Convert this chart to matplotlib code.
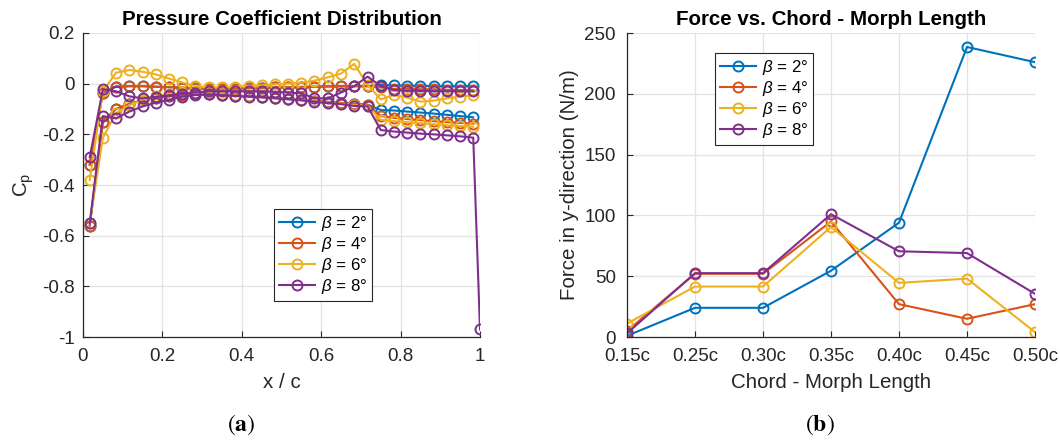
import matplotlib
matplotlib.use("Agg")
import matplotlib.pyplot as plt
from matplotlib.ticker import FixedLocator, FixedFormatter

plt.rcParams['font.family'] = ['Liberation Sans', 'DejaVu Sans']
plt.rcParams['axes.unicode_minus'] = False
plt.rcParams['mathtext.fontset'] = 'custom'
plt.rcParams['mathtext.rm'] = 'Liberation Sans'
plt.rcParams['mathtext.it'] = 'Liberation Sans:italic'

# ---------------- data: pressure coefficient along the chord ----------------
x_c = [0.017, 0.050, 0.083, 0.117, 0.150, 0.183, 0.217, 0.250, 0.283, 0.317,
       0.350, 0.383, 0.417, 0.450, 0.483, 0.517, 0.550, 0.583, 0.617, 0.650,
       0.683, 0.717, 0.750, 0.783, 0.817, 0.850, 0.883, 0.917, 0.950, 0.983]
x_c_te = x_c + [1.0]

cp_b2_upper = [-0.32, -0.035, -0.012, -0.010, -0.010, -0.012, -0.014, -0.016, -0.018, -0.020,
               -0.020, -0.020, -0.018, -0.016, -0.015, -0.014, -0.013, -0.012, -0.011, -0.010,
               -0.010, -0.010, -0.005, -0.007, -0.008, -0.009, -0.010, -0.010, -0.010, -0.010]
cp_b2_lower = [-0.56, -0.150, -0.100, -0.080, -0.065, -0.055, -0.050, -0.045, -0.042, -0.042,
               -0.045, -0.048, -0.050, -0.053, -0.056, -0.060, -0.064, -0.068, -0.072, -0.076,
               -0.080, -0.083, -0.104, -0.106, -0.110, -0.114, -0.118, -0.123, -0.128, -0.133]

cp_b4_upper = [-0.32, -0.035, -0.012, -0.010, -0.010, -0.012, -0.014, -0.016, -0.018, -0.020,
               -0.020, -0.020, -0.018, -0.016, -0.015, -0.014, -0.013, -0.012, -0.011, -0.010,
               -0.010, -0.010, -0.015, -0.020, -0.020, -0.022, -0.022, -0.024, -0.025, -0.025]
cp_b4_lower = [-0.56, -0.150, -0.100, -0.080, -0.065, -0.055, -0.050, -0.045, -0.042, -0.042,
               -0.045, -0.048, -0.050, -0.053, -0.056, -0.060, -0.064, -0.068, -0.072, -0.076,
               -0.080, -0.083, -0.128, -0.135, -0.140, -0.144, -0.148, -0.152, -0.155, -0.158]

cp_b6_upper = [-0.38, -0.030, 0.043, 0.054, 0.047, 0.037, 0.020, 0.005, -0.010, -0.015,
               -0.015, -0.012, -0.010, -0.006, -0.003, 0.000, 0.004, 0.012, 0.025, 0.040,
               0.078, -0.005, -0.062, -0.045, -0.055, -0.071, -0.067, -0.058, -0.051, -0.045]
cp_b6_lower = [-0.55, -0.214, -0.116, -0.085, -0.065, -0.050, -0.042, -0.038, -0.036, -0.038,
               -0.042, -0.046, -0.050, -0.053, -0.056, -0.060, -0.065, -0.070, -0.075, -0.079,
               -0.084, -0.088, -0.143, -0.148, -0.152, -0.156, -0.160, -0.164, -0.167, -0.170]

cp_b8_upper = [-0.29, -0.022, -0.030, -0.050, -0.058, -0.052, -0.046, -0.040, -0.035, -0.030,
               -0.030, -0.030, -0.030, -0.030, -0.032, -0.035, -0.038, -0.058, -0.058, -0.035,
               -0.010, 0.028, -0.010, -0.025, -0.028, -0.028, -0.030, -0.030, -0.030, -0.030]
cp_b8_lower = [-0.55, -0.128, -0.137, -0.110, -0.090, -0.075, -0.064, -0.051, -0.045, -0.042,
               -0.045, -0.048, -0.051, -0.054, -0.058, -0.062, -0.066, -0.071, -0.077, -0.081,
               -0.088, -0.090, -0.183, -0.189, -0.193, -0.197, -0.200, -0.204, -0.208, -0.213,
               -0.97]

# ---------------- data: force against morph length ----------------
morph_labels = ['0.15c', '0.25c', '0.30c', '0.35c', '0.40c', '0.45c', '0.50c']
force_b2 = [1, 24, 24, 54.5, 94, 238.5, 226]
force_b4 = [5, 52, 52, 95, 27, 15, 27]
force_b6 = [11, 41.5, 41.5, 90.5, 44.5, 48, 4]
force_b8 = [3, 52.5, 52.5, 101, 70.5, 69, 35.5]

beta_labels = [r'$\beta$ = 2°', r'$\beta$ = 4°', r'$\beta$ = 6°', r'$\beta$ = 8°']
colors = ['#0072BD', '#D95319', '#EDB120', '#7E2F8E']

TICK_FS = 13.5
LABEL_FS = 14.8
TITLE_FS = 14.8
LEG_FS = 12.2
TXT = '#262626'

line_kw = dict(marker='o', markerfacecolor='none', markersize=7.2,
               markeredgewidth=1.4, linewidth=1.5)


def style_axes(ax):
    for side in ('top', 'right'):
        ax.spines[side].set_visible(False)
    for side in ('left', 'bottom'):
        ax.spines[side].set_color(TXT)
        ax.spines[side].set_linewidth(0.9)
    ax.grid(True, color='#e3e3e3', linewidth=0.9)
    ax.set_axisbelow(True)
    ax.tick_params(direction='in', length=4, width=0.8, colors=TXT,
                   labelsize=TICK_FS)
    ax.tick_params(axis='x', pad=8)
    ax.tick_params(axis='y', pad=6)


def add_legend(ax, loc, anchor):
    leg = ax.legend(loc=loc, bbox_to_anchor=anchor, fontsize=LEG_FS,
                    frameon=True, fancybox=False, framealpha=1, edgecolor=TXT,
                    borderpad=0.3, labelspacing=0.12, handlelength=2.1,
                    handletextpad=0.35, borderaxespad=0)
    leg.get_frame().set_linewidth(0.8)
    return leg


fig = plt.figure(figsize=(10.6, 4.41), dpi=100)

# ---------------- (a) pressure coefficient ----------------
ax1 = fig.add_axes([83 / 1060, 1 - 337 / 441, 397 / 1060, 304 / 441])
style_axes(ax1)
ax1.plot(x_c, cp_b2_upper, color=colors[0], label=beta_labels[0], **line_kw)
ax1.plot(x_c, cp_b2_lower, color=colors[0], **line_kw)
ax1.plot(x_c, cp_b4_upper, color=colors[1], label=beta_labels[1], **line_kw)
ax1.plot(x_c, cp_b4_lower, color=colors[1], **line_kw)
ax1.plot(x_c, cp_b6_upper, color=colors[2], label=beta_labels[2], **line_kw)
ax1.plot(x_c, cp_b6_lower, color=colors[2], **line_kw)
ax1.plot(x_c, cp_b8_upper, color=colors[3], label=beta_labels[3], **line_kw)
ax1.plot(x_c_te, cp_b8_lower, color=colors[3], **line_kw)
ax1.set_xlim(0, 1)
ax1.set_ylim(-1, 0.2)
xt = [0, 0.2, 0.4, 0.6, 0.8, 1]
yt = [-1, -0.8, -0.6, -0.4, -0.2, 0, 0.2]
ax1.xaxis.set_major_locator(FixedLocator(xt))
ax1.xaxis.set_major_formatter(FixedFormatter(['0', '0.2', '0.4', '0.6', '0.8', '1']))
ax1.yaxis.set_major_locator(FixedLocator(yt))
ax1.yaxis.set_major_formatter(FixedFormatter(['-1', '-0.8', '-0.6', '-0.4', '-0.2', '0', '0.2']))
ax1.set_xlabel('x / c', fontsize=LABEL_FS, color=TXT, labelpad=6)
ax1.set_ylabel(r'C$_\mathrm{p}$', fontsize=LABEL_FS, color=TXT, labelpad=4)
ax1.set_title('Pressure Coefficient Distribution', fontsize=TITLE_FS,
              fontweight='bold', color='black', pad=6)
add_legend(ax1, 'lower right', (0.728, 0.118))

# ---------------- (b) force vs morph length ----------------
ax2 = fig.add_axes([627 / 1060, 1 - 337 / 441, 408 / 1060, 304 / 441])
style_axes(ax2)
ax2.plot(morph_labels, force_b2, color=colors[0], label=beta_labels[0], **line_kw)
ax2.plot(morph_labels, force_b4, color=colors[1], label=beta_labels[1], **line_kw)
ax2.plot(morph_labels, force_b6, color=colors[2], label=beta_labels[2], **line_kw)
ax2.plot(morph_labels, force_b8, color=colors[3], label=beta_labels[3], **line_kw)
ax2.set_xlim(0, len(morph_labels) - 1)
ax2.set_ylim(0, 250)
ax2.set_yticks([0, 50, 100, 150, 200, 250])
ax2.tick_params(axis='y', pad=8)
ax2.set_xlabel('Chord - Morph Length', fontsize=LABEL_FS, color=TXT, labelpad=6)
ax2.set_ylabel('Force in y-direction (N/m)', fontsize=LABEL_FS, color=TXT, labelpad=4)
ax2.set_title('Force vs. Chord - Morph Length', fontsize=TITLE_FS,
              fontweight='bold', color='black', pad=6)
add_legend(ax2, 'upper left', (0.216, 0.934))

# ---------------- panel captions ----------------
fig.text(241 / 1060, 1 - 425 / 441, r'$(\mathbf{a})$', ha='center', va='center',
         fontsize=17, math_fontfamily='stix')
fig.text(820 / 1060, 1 - 425 / 441, r'$(\mathbf{b})$', ha='center', va='center',
         fontsize=17, math_fontfamily='stix')

fig.savefig('out.png', dpi=100, facecolor='white')
